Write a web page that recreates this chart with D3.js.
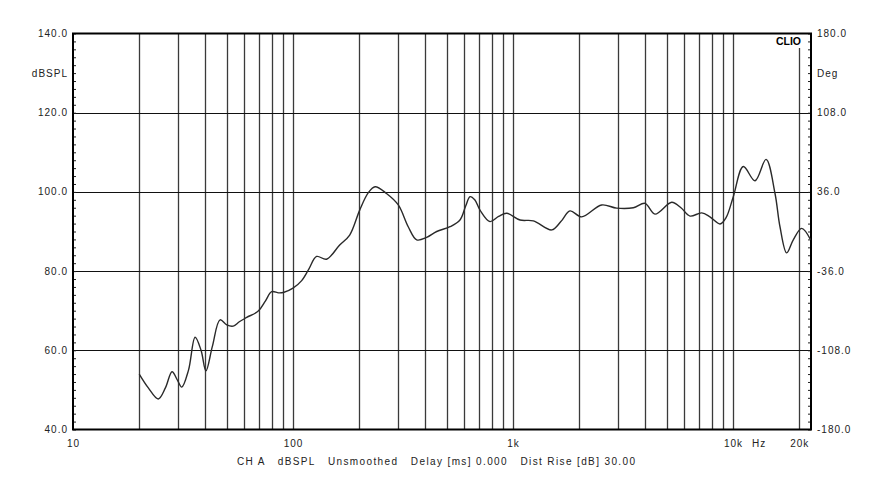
<!DOCTYPE html>
<html>
<head>
<meta charset="utf-8">
<script src="https://cdn.jsdelivr.net/npm/d3@7"></script>
<style>
  html, body { margin: 0; padding: 0; background: #fff; }
  svg { display: block; font-family: "Liberation Sans", Arial, sans-serif; }
  .lbl { letter-spacing: 1px; }
</style>
</head>
<body>
<svg id="chart" width="880" height="500"></svg>
<script>
// ---- data ----
const freqHz = [20, 22, 24.4, 26.3, 28.2, 29.8, 31.2, 33.5, 35.9, 38.2, 40.2, 43, 46.6, 50, 53.5, 57, 61.6, 69.5, 75, 80, 86, 90.4, 100, 109.5, 118, 128, 142, 163, 181, 201, 220, 236, 266, 301, 334, 365, 405, 450, 517, 574, 610, 638, 670, 708, 786, 860, 936, 1076, 1237, 1500, 1650, 1816, 2051, 2529, 2958, 3524, 3981, 4419, 5265, 5800, 6376, 7206, 7855, 8730, 9300, 10030, 11140, 12590, 14130, 15520, 16350, 17540, 18790, 20510, 22550];
const splDb = [54.0, 50.5, 47.7, 50.5, 54.6, 52.5, 50.7, 55.0, 63.3, 60.0, 54.8, 61.0, 67.7, 66.4, 66.1, 67.2, 68.3, 69.9, 72.5, 74.8, 74.5, 74.6, 75.7, 77.6, 80.5, 83.7, 83.0, 86.6, 89.1, 95.4, 99.8, 101.3, 99.6, 96.7, 91.2, 87.9, 88.5, 90.0, 91.2, 92.9, 96.5, 98.8, 98.0, 95.4, 92.5, 93.8, 94.6, 92.9, 92.7, 90.4, 92.5, 95.2, 93.7, 96.7, 95.9, 96.0, 97.1, 94.4, 97.4, 96.0, 93.9, 94.7, 93.7, 91.9, 93.5, 98.8, 106.4, 102.8, 108.2, 99.6, 91.2, 84.6, 87.9, 90.8, 87.9];
const gridFreqs = [20, 30, 40, 50, 60, 70, 80, 90, 100, 200, 300, 400, 500, 600, 700, 800, 900, 1000, 2000, 3000, 4000, 5000, 6000, 7000, 8000, 9000, 10000, 20000];
const xTickValues = [10, 100, 1000, 10000, 20000];
const xTickLabels = ["10", "100", "1k", "10k", "20k"];
const yLeftTicks = [140, 120, 100, 80, 60, 40];
const yRightTicks = [180, 108, 36, -36, -108, -180];
const captionText = "CH A   dBSPL   Unsmoothed   Delay [ms] 0.000   Dist Rise [dB] 30.00";

// ---- layout ----
const L = 73, R = 811, T = 33.5, B = 429.5;
const svg = d3.select("#chart");

const x = d3.scaleLog().domain([10, 22620]).range([L, R]);
const y = d3.scaleLinear().domain([40, 140]).range([B, T]);
const yR = d3.scaleLinear().domain([-180, 180]).range([B, T]);

// vertical grid lines
svg.append("g").selectAll("line").data(gridFreqs).join("line")
  .attr("x1", d => Math.round(x(d)) + 0.5).attr("x2", d => Math.round(x(d)) + 0.5)
  .attr("y1", d => d === 20000 ? 48 : T).attr("y2", B)
  .attr("stroke", "#3a3a3a").attr("stroke-width", 1.3);

// horizontal grid lines
svg.append("g").selectAll("line").data([120, 100, 80, 60]).join("line")
  .attr("x1", L).attr("x2", R)
  .attr("y1", d => Math.round(y(d)) + 0.5).attr("y2", d => Math.round(y(d)) + 0.5)
  .attr("stroke", "#111").attr("stroke-width", 1);

// minor ticks (every 2 dB) on both sides, pointing inward
const minor = d3.range(40, 141, 2);
const leftAxis = d3.axisRight(y).tickValues(minor).tickSize(3).tickFormat("");
const rightAxis = d3.axisLeft(y).tickValues(minor).tickSize(3).tickFormat("");
svg.append("g").attr("transform", `translate(${L},0)`).call(leftAxis)
  .call(g => g.select(".domain").remove()).selectAll("line").attr("stroke", "#222");
svg.append("g").attr("transform", `translate(${R},0)`).call(rightAxis)
  .call(g => g.select(".domain").remove()).selectAll("line").attr("stroke", "#222");

// frame
svg.append("rect").attr("x", L).attr("y", T).attr("width", R - L).attr("height", B - T)
  .attr("fill", "none").attr("stroke", "#000").attr("stroke-width", 2);

// curve
const pts = freqHz.map((f, i) => [f, splDb[i]]);
svg.append("path").datum(pts)
  .attr("d", d3.line().x(d => x(d[0])).y(d => y(d[1])).curve(d3.curveCatmullRom.alpha(0.5)))
  .attr("fill", "none").attr("stroke", "#2a2a2a").attr("stroke-width", 1.4);

// left tick labels
const txt = "#222";
svg.append("g").selectAll("text").data(yLeftTicks).join("text").attr("class", "lbl")
  .attr("x", 68).attr("y", d => y(d)).attr("dy", "0.35em")
  .attr("text-anchor", "end").attr("font-size", 10).attr("fill", txt)
  .text(d => d.toFixed(1));
svg.append("text").attr("class", "lbl").attr("x", 68).attr("y", 73).attr("dy", "0.35em")
  .attr("text-anchor", "end").attr("font-size", 10).attr("fill", txt).text("dBSPL");

// right tick labels
svg.append("g").selectAll("text").data(yRightTicks).join("text").attr("class", "lbl")
  .attr("x", 817).attr("y", d => yR(d)).attr("dy", "0.35em")
  .attr("text-anchor", "start").attr("font-size", 10).attr("fill", txt)
  .text(d => d.toFixed(1));
svg.append("text").attr("class", "lbl").attr("x", 817).attr("y", 73).attr("dy", "0.35em")
  .attr("text-anchor", "start").attr("font-size", 10).attr("fill", txt).text("Deg");

// bottom tick labels
svg.append("g").selectAll("text").data(xTickValues).join("text").attr("class", "lbl")
  .attr("x", d => x(d) + 0.5).attr("y", 447)
  .attr("text-anchor", "middle").attr("font-size", 10).attr("fill", txt)
  .text((d, i) => xTickLabels[i]);
svg.append("text").attr("class", "lbl").attr("x", 752).attr("y", 447).attr("font-size", 10).attr("fill", txt).text("Hz");

// caption
svg.append("text").attr("x", 237).attr("y", 465)
  .attr("font-size", 10).attr("fill", txt).style("white-space", "pre")
  .attr("textLength", 398).attr("lengthAdjust", "spacing").text(captionText);

// CLIO label
svg.append("text").attr("x", 801).attr("y", 45).attr("text-anchor", "end")
  .attr("font-size", 10.5).attr("font-weight", "bold").attr("fill", "#000").text("CLIO");
</script>
</body>
</html>
